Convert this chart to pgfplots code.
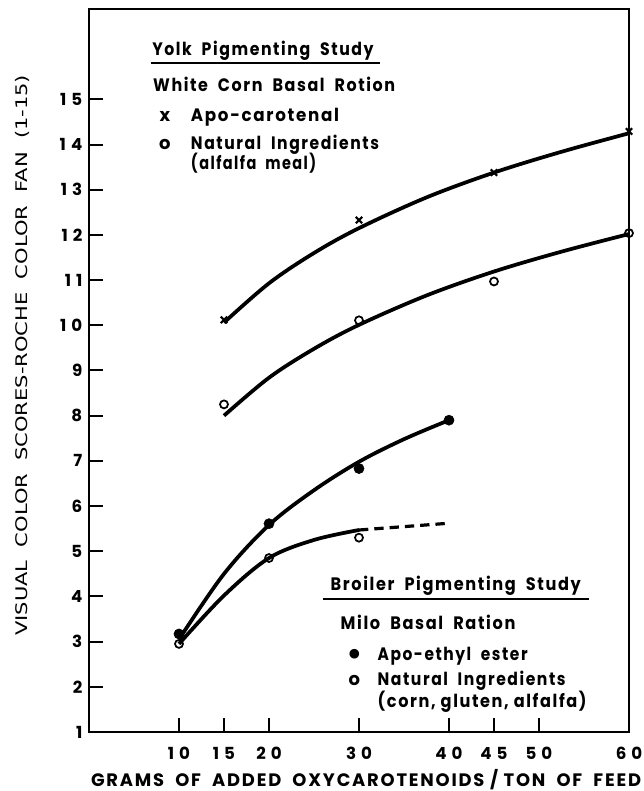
\documentclass[border=0pt]{standalone}
\usepackage{fontspec}
\setmainfont{Poppins}
\newfontfamily\pf[LetterSpace=10]{Poppins}
\newfontfamily\tf[LetterSpace=30]{Poppins}
\newfontfamily\dv{DejaVu Sans}
\usepackage{graphicx}
\usepackage{pgfplots}
\pgfplotsset{compat=1.18}
\newcommand{\lt}[2]{\resizebox{#1}{\height}{\pf\bfseries\fontsize{13.5}{14}\selectfont #2}}
\begin{document}
\begin{tikzpicture}
\path[use as bounding box] (0,0) rectangle (482.25pt,593.25pt);
\begin{axis}[
  at={(66.75pt,44.25pt)}, anchor=south west,
  scale only axis, width=405pt, height=542.25pt,
  xmin=0, xmax=60, ymin=1, ymax=17,
  xtick={10,15,20,30,40,45,50,60},
  ytick={1,2,3,4,5,6,7,8,9,10,11,12,13,14,15},
  tick align=inside, xtick pos=bottom, ytick pos=left,
  major tick length=10.5pt,
  axis line style={line width=1.5pt},
  every tick/.style={line width=1.5pt, black},
  clip=false,
  /pgf/number format/assume math mode=true,
  tick label style={font=\tf\bfseries\fontsize{12.5}{13}\selectfont},
  yticklabel style={xshift=-1.5pt},
  xticklabel style={yshift=-8pt},
]
% fitted curves
\addplot[line width=2.8pt, smooth, tension=0.55] coordinates {(15,10.06) (20,10.93) (25,11.60) (30,12.15) (37.5,12.83) (45,13.38) (52.5,13.84) (60,14.25)};
\addplot[line width=2.8pt, smooth, tension=0.55] coordinates {(15,8.0) (20,8.84) (25,9.48) (30,10.01) (37.5,10.66) (45,11.19) (52.5,11.63) (60,12.02)};
\addplot[line width=2.8pt, smooth, tension=0.55] coordinates {(10,3.05) (15,4.5) (20,5.58) (25,6.35) (30,6.98) (35,7.48) (40,7.9)};
\addplot[line width=2.8pt, smooth, tension=0.55] coordinates {(10,2.95) (15,4.02) (20,4.85) (25,5.25) (30,5.47)};
\addplot[line width=2.4pt, dash pattern=on 7pt off 4.5pt] coordinates {(30,5.47) (40,5.62)};
% data points
\addplot[only marks, mark=x, mark size=3.4pt, line width=1.6pt] coordinates {(15,10.12) (30,12.33) (45,13.38) (60,14.29)};
\addplot[only marks, mark=o, mark size=3pt, line width=1.3pt, mark options={fill=white}] coordinates {(15,8.25) (30,10.11) (45,10.97) (60,12.04)};
\addplot[only marks, mark=o, mark size=3pt, line width=1.3pt, mark options={fill=white}] coordinates {(10,2.95) (20,4.85) (30,5.30)};
\addplot[only marks, mark=*, mark size=3.8pt] coordinates {(10,3.17) (20,5.61) (30,6.83) (40,7.90)};
% Yolk legend
\node[anchor=base west, inner sep=0pt] at (axis cs:7.0,15.96) {\lt{166pt}{Yolk\ \ Pigmenting\ \ Study}};
\draw[line width=1.9pt] (axis cs:6.87,15.80) -- (axis cs:32.37,15.80);
\node[anchor=base west, inner sep=0pt] at (axis cs:7.1,15.18) {\lt{181.5pt}{White\ \ Corn\ \ Basal\ \ Rotion}};
\node[anchor=base, inner sep=0pt, font=\pf\bfseries\fontsize{13.5}{14}\selectfont] at (axis cs:8.43,14.52) {x};
\node[anchor=base west, inner sep=0pt] at (axis cs:11.3,14.52) {\lt{111pt}{Apo-carotenal}};
\node[anchor=base, inner sep=0pt, font=\pf\bfseries\fontsize{13.5}{14}\selectfont] at (axis cs:8.43,13.90) {o};
\node[anchor=base west, inner sep=0pt] at (axis cs:11.3,13.90) {\lt{141pt}{Natural\ \ Ingredients}};
\node[anchor=base west, inner sep=0pt] at (axis cs:11.3,13.44) {\lt{94pt}{(alfalfa\ \ meal)}};
% Broiler legend
\node[anchor=base west, inner sep=0pt] at (axis cs:26.83,4.14) {\lt{187.5pt}{Broiler\ \ Pigmenting\ \ Study}};
\draw[line width=1.9pt] (axis cs:26.05,3.94) -- (axis cs:55.55,3.94);
\node[anchor=base west, inner sep=0pt] at (axis cs:27.94,3.26) {\lt{131pt}{Milo\ \ Basal\ \ Ration}};
\node[inner sep=0pt, font=\dv\fontsize{9.5}{10}\selectfont] at (axis cs:29.49,2.73) {●};
\node[anchor=base west, inner sep=0pt] at (axis cs:32.04,2.59) {\lt{112.5pt}{Apo-ethyl\ \ ester}};
\node[anchor=base, inner sep=0pt, font=\pf\bfseries\fontsize{13.5}{14}\selectfont] at (axis cs:29.49,2.04) {o};
\node[anchor=base west, inner sep=0pt] at (axis cs:32.04,2.04) {\lt{141pt}{Natural\ \ Ingredients}};
\node[anchor=base west, inner sep=0pt] at (axis cs:32.04,1.55) {\lt{156.75pt}{(corn,\ gluten,\ alfalfa)}};
% axis titles
\node[anchor=base, inner sep=0pt] at (rel axis cs:0.513,-0.0747) {\resizebox{412.5pt}{\height}{\pf\bfseries\fontsize{13.5}{14}\selectfont GRAMS\ \ OF\ \ ADDED\ \ OXYCAROTENOIDS\ /\ TON\ \ OF\ \ FEED}};
\node[inner sep=0pt, rotate=90] at (rel axis cs:-0.1241,0.521) {\resizebox{420.75pt}{\height}{\dv\fontsize{12}{13}\selectfont VISUAL\ \ COLOR\ \ SCORES-ROCHE\ \ COLOR\ \ FAN\ \ (1-15)}};
\end{axis}
\end{tikzpicture}
\end{document}
